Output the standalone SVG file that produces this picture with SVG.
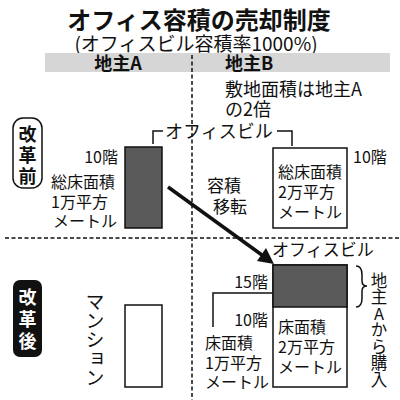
<svg xmlns="http://www.w3.org/2000/svg" width="400" height="400" viewBox="0 0 400 400">
<style>
text{font-family:"Noto Sans CJK JP","Noto Sans CJK SC",sans-serif;fill:#111}
.t16{font-size:16px}
.t17{font-size:17px}
.t18{font-size:18px}
.b{font-weight:700}
.dash{stroke:#111;stroke-width:1.5;stroke-dasharray:4 2.5;fill:none}
.bld{stroke:#111;stroke-width:1.5;fill:#fff}
.shade{fill:#5a5a5a;stroke:#111;stroke-width:1.5}
.ln{stroke:#111;stroke-width:1.5;fill:none}
.vert{writing-mode:vertical-rl;text-orientation:upright}
</style>
<rect width="400" height="400" fill="#fff"/>
<g id="title">
<text x="199" y="29" font-size="24" font-weight="700" text-anchor="middle">オフィス容積の売却制度</text>
<text x="196" y="51" font-size="19" text-anchor="middle">(オフィスビル容積率1000%)</text>
</g>
<g id="band">
<rect x="45" y="53" width="345" height="19" fill="#d6d6d6"/>
<text x="118" y="70" class="t18 b" text-anchor="middle">地主A</text>
<text x="225" y="70" class="t18 b">地主B</text>
</g>
<g id="dividers">
<line x1="192" y1="55" x2="192" y2="400" class="dash"/>
<line x1="5" y1="238" x2="400" y2="238" class="dash"/>
</g>
<g id="ownerB-note">
<text x="225" y="96" class="t18">敷地面積は地主A</text>
<text x="225" y="116" class="t18">の2倍</text>
</g>
<g id="label-before">
<rect x="13" y="118" width="29" height="70" rx="10" fill="#fff" stroke="#111" stroke-width="1.5"/>
<text x="27.5" y="141" class="t18 b" text-anchor="middle">改</text>
<text x="27.5" y="162" class="t18 b" text-anchor="middle">革</text>
<text x="27.5" y="183" class="t18 b" text-anchor="middle">前</text>
</g>
<g id="label-after">
<rect x="13" y="280" width="29" height="77" rx="7" fill="#111"/>
<text x="27.5" y="304" class="t18 b" text-anchor="middle" style="fill:#fff">改</text>
<text x="27.5" y="326" class="t18 b" text-anchor="middle" style="fill:#fff">革</text>
<text x="27.5" y="348" class="t18 b" text-anchor="middle" style="fill:#fff">後</text>
</g>
<g id="office-label-before">
<path d="M153,144 V131 H163" class="ln"/>
<text x="165" y="138" class="t18">オフィスビル</text>
<path d="M277,131 H292 V146" class="ln"/>
</g>
<g id="buildingA-before">
<rect x="125" y="147" width="37" height="81" class="shade"/>
<text x="118" y="163" class="t16" text-anchor="end">10階</text>
<text x="51" y="188" class="t16">総床面積</text>
<text x="51" y="208" class="t16">1万平方</text>
<text x="53" y="227" class="t16">メートル</text>
</g>
<g id="buildingB-before">
<rect x="273" y="148" width="74" height="80" class="bld"/>
<text x="278" y="178" class="t16">総床面積</text>
<text x="278" y="198" class="t16">2万平方</text>
<text x="278" y="218" class="t16">メートル</text>
<text x="353" y="163" class="t16">10階</text>
</g>
<g id="transfer-label">
<text x="207" y="192" class="t17">容積</text>
<text x="213" y="213" class="t17">移転</text>
</g>
<g id="connectors">
<line x1="168" y1="187" x2="264" y2="256.5" stroke="#111" stroke-width="3.5"/>
<polygon points="274,264 257,261 266,248" fill="#111"/>
<path d="M272,293 H213 V327" class="ln"/>
</g>
<g id="mansion">
<rect x="125" y="305" width="37" height="82" class="bld"/>
<text x="95" y="292" class="vert" font-size="19">マンション</text>
</g>
<g id="office-after">
<text x="272" y="256" class="t17">オフィスビル</text>
<rect x="273" y="265" width="74" height="122" class="bld"/>
<rect x="273" y="265" width="74" height="42" class="shade"/>
<text x="268" y="288" class="t16" text-anchor="end">15階</text>
<text x="268" y="326" class="t16" text-anchor="end">10階</text>
<text x="278" y="333" class="t16">床面積</text>
<text x="278" y="353" class="t16">2万平方</text>
<text x="278" y="373" class="t16">メートル</text>
<text x="205" y="349" class="t16">床面積</text>
<text x="205" y="369" class="t16">1万平方</text>
<text x="205" y="388" class="t16">メートル</text>
</g>
<g id="purchase-note">
<path d="M356,266 Q362,266 362,275 V281 Q362,286 367,286 Q362,286 362,291 V298 Q362,307 356,307" class="ln"/>
<text x="379" y="272" class="vert" font-size="16.5">地主Aから購入</text>
</g>
</svg>
